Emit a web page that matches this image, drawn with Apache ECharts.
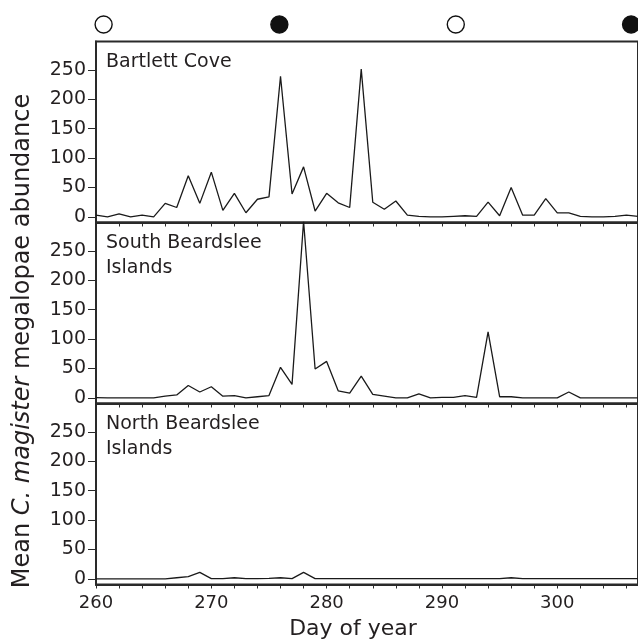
<!DOCTYPE html>
<html>
<head>
<meta charset="utf-8">
<script src="https://cdn.jsdelivr.net/npm/echarts@6/dist/echarts.min.js"></script>
<style>
  html, body { margin: 0; padding: 0; background: #fff; }
  #chart { width: 638px; height: 641px; }
</style>
</head>
<body>
<div id="chart"></div>
<script>
// Day of year for each sampling day
const days = [260, 261, 262, 263, 264, 265, 266, 267, 268, 269, 270, 271, 272, 273, 274, 275,
              276, 277, 278, 279, 280, 281, 282, 283, 284, 285, 286, 287, 288, 289, 290, 291,
              292, 293, 294, 295, 296, 297, 298, 299, 300, 301, 302, 303, 304, 305, 306, 307];

// Mean megalopae abundance per site
const bartlettCove = [3, 0, 5, 0, 3, 0, 23, 16, 70, 23, 76, 11, 40, 7, 30, 34,
                      239, 39, 85, 10, 40, 24, 16, 251, 25, 13, 27, 3, 1, 0, 0, 1,
                      2, 1, 25, 2, 50, 3, 3, 31, 7, 7, 1, 0, 0, 1, 3, 1];
const southBeardslee = [0.5, 0, 0, 0, 0, 0, 3, 5, 21, 10, 19, 3, 4, 0, 2, 4,
                        52, 23, 300, 49, 62, 12, 8, 37, 6, 3, 0, 0, 7, 0, 1, 1,
                        4, 1, 112, 2, 2, 0, 0, 0, 0, 10, 0, 0, 0, 0, 0, 0];
const northBeardslee = [0, 0, 0, 0, 0, 0, 0, 2, 4, 11, 0.5, 0.5, 2, 0.5, 0.5, 1,
                        2, 0.5, 11, 0.5, 0.5, 0.5, 0.5, 0.5, 0.5, 0.5, 0.5, 0.5, 0.5, 0.5, 0.5, 0.5,
                        0.5, 0.5, 0.5, 0.5, 2, 0.5, 0.5, 0.5, 0.5, 0.5, 0.5, 0.5, 0.5, 0.5, 0.5, 0.5];

const siteNames = ['Bartlett Cove', 'South Beardslee\nIslands', 'North Beardslee\nIslands'];
const siteSeries = [bartlettCove, southBeardslee, northBeardslee];

// Lunar phases: open circle = full moon, filled circle = new moon
const moonDays = [260.66, 275.9, 291.2, 306.4];
const moonFilled = [false, true, false, true];

const yTickValues = [0, 50, 100, 150, 200, 250];
const xLabelValues = [260, 270, 280, 290, 300];

const FONT = '"DejaVu Sans", Verdana, sans-serif';
const INK = '#231f20';
const FRAME = '#2a2a2a';

const panelTop = [41.5, 222.5, 403.5];
const panelHeight = 181;
const left = 96;
const right = -2;

const grids = [];
const xAxes = [];
const yAxes = [];
const series = [];

panelTop.forEach((top, i) => {
  grids.push({
    left: left, right: right, top: top, height: panelHeight,
    show: true, borderColor: FRAME, borderWidth: 2, backgroundColor: 'transparent'
  });
  const isLast = i === panelTop.length - 1;
  xAxes.push({
    gridIndex: i, type: 'value', min: 260, max: 307, interval: 2,
    axisLine: { show: true, onZero: false, lineStyle: { color: FRAME, width: 2 } },
    axisTick: { show: true, inside: false, length: 4, lineStyle: { color: FRAME, width: 1 } },
    splitLine: { show: false },
    axisLabel: {
      show: isLast, customValues: xLabelValues, margin: 10,
      fontFamily: FONT, fontSize: 18, color: INK
    }
  });
  yAxes.push({
    gridIndex: i, type: 'value', min: -9.5, max: 298,
    axisLine: { show: true, lineStyle: { color: FRAME, width: 2 } },
    axisTick: { show: true, inside: false, length: 8, customValues: yTickValues, lineStyle: { color: FRAME, width: 1 } },
    splitLine: { show: false },
    axisLabel: {
      customValues: yTickValues, margin: 10,
      fontFamily: FONT, fontSize: 19, color: INK
    }
  });
  series.push({
    type: 'line', xAxisIndex: i, yAxisIndex: i,
    data: days.map((d, k) => [d, siteSeries[i][k]]),
    showSymbol: false, symbol: 'none', clip: true,
    lineStyle: { color: '#1a1a1a', width: 1.3 },
    animation: false, z: 3
  });
});

// Strip above the panels carrying the lunar phase markers
grids.push({ left: left, right: right, top: 14.5, height: 20 });
xAxes.push({ gridIndex: 3, type: 'value', min: 260, max: 307, show: false });
yAxes.push({ gridIndex: 3, type: 'value', min: 0, max: 1, show: false });
series.push({
  type: 'scatter', xAxisIndex: 3, yAxisIndex: 3,
  data: moonDays.map((d, k) => ({
    value: [d, 0.5],
    itemStyle: {
      color: moonFilled[k] ? '#111' : '#fff',
      borderColor: '#111', borderWidth: 1.4, opacity: 1
    }
  })),
  symbol: 'circle', symbolSize: 17, clip: false, animation: false
});

const graphics = [];
siteNames.forEach((name, i) => {
  graphics.push({
    type: 'text', left: 106, top: panelTop[i] + 8,
    style: { text: name, fontFamily: FONT, fontSize: 19, fill: INK, lineHeight: 25 }
  });
});
graphics.push({
  type: 'text', x: 353, y: 629,
  style: {
    text: 'Day of year', fontFamily: FONT, fontSize: 22, fill: INK,
    align: 'center', verticalAlign: 'middle'
  }
});
graphics.push({
  type: 'text', x: 23, y: 341, rotation: Math.PI / 2,
  style: {
    text: '{n|Mean }{i|C. magister}{n| megalopae abundance}',
    align: 'center', verticalAlign: 'middle',
    rich: {
      n: { fontFamily: FONT, fontSize: 24, fill: INK },
      i: { fontFamily: FONT, fontSize: 24, fontStyle: 'italic', fill: INK }
    }
  }
});

const chart = echarts.init(document.getElementById('chart'), null, { renderer: 'canvas' });
chart.setOption({
  animation: false,
  backgroundColor: '#fff',
  grid: grids,
  xAxis: xAxes,
  yAxis: yAxes,
  series: series,
  graphic: graphics
});
</script>
</body>
</html>
